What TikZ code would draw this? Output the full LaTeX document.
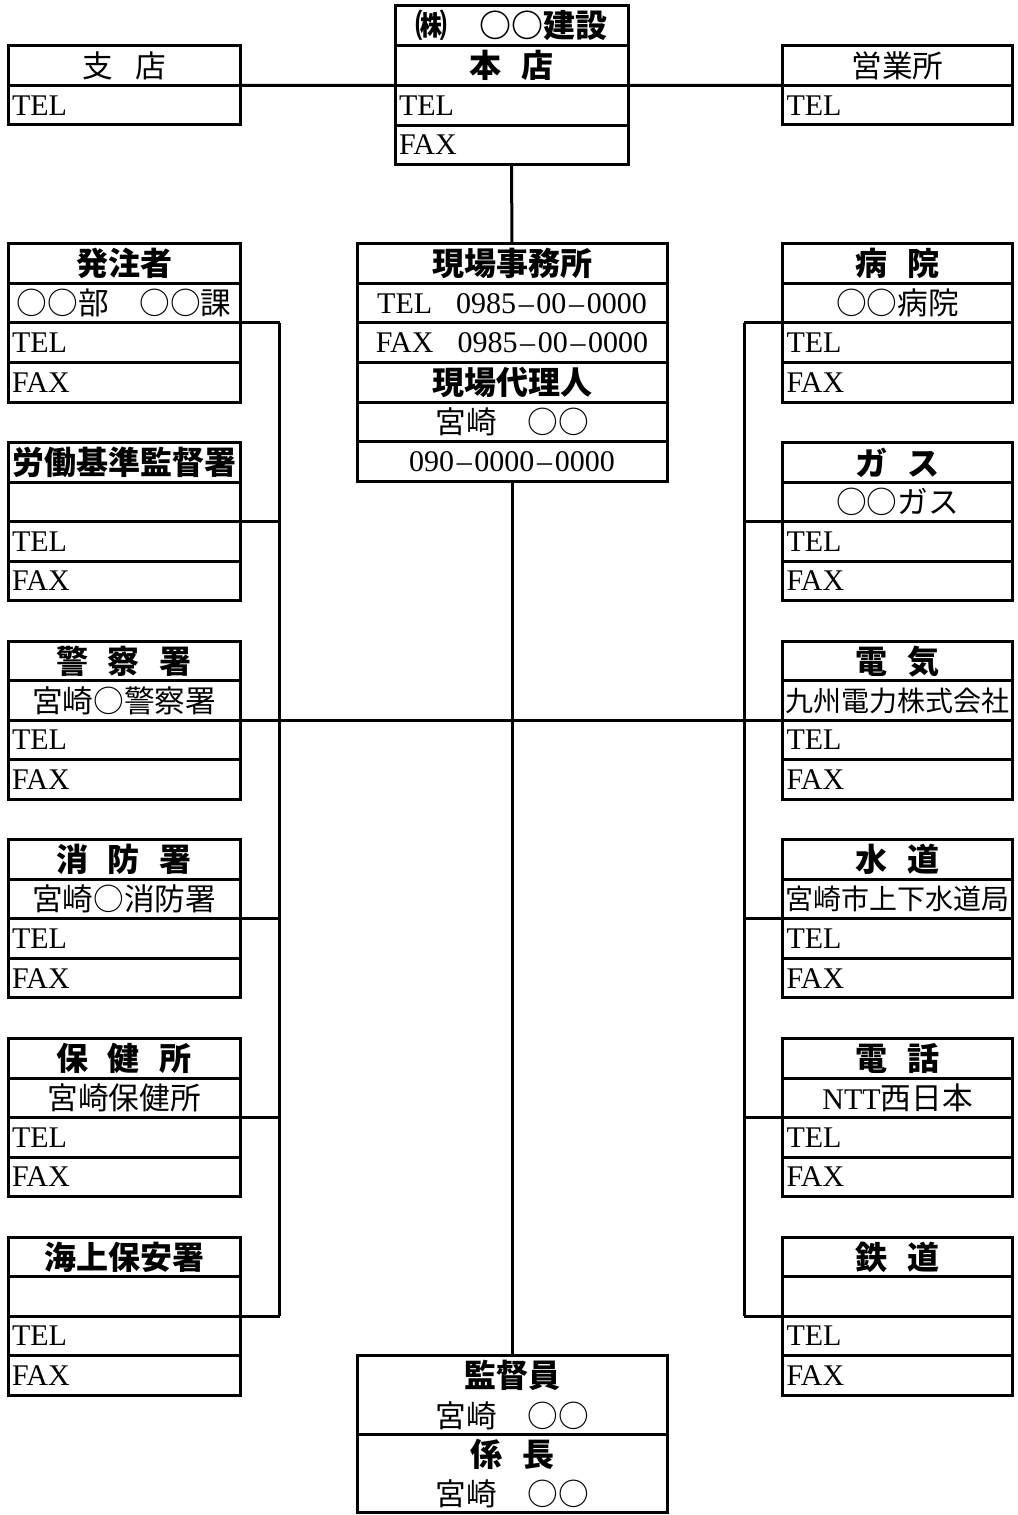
\documentclass[tikz,border=0pt]{standalone}
\usepackage{fontspec}
\setmainfont{Liberation Serif}
\newfontfamily\jp{Noto Sans CJK JP}
\newcommand\J[1]{{\jp\fontsize{23pt}{29.6pt}\selectfont #1}}
\newcommand\Js[1]{{\jp\fontsize{21pt}{29.6pt}\selectfont #1}}
\newcommand\JB[1]{{\jp\bfseries\fontsize{24pt}{29.6pt}\selectfont #1}}
\newcommand\hy{\kern2pt–\kern2pt}
\newcommand\bsp{\hspace{15pt}}
\newcommand\rsp{\hspace{17pt}}
\tikzset{
  ln/.style={line width=2.25pt},
  cell/.style={draw, line width=2.25pt, inner sep=0pt, outer sep=0pt, anchor=north west, align=center,
    font=\fontsize{22.5pt}{29.6pt}\selectfont, minimum height=29.625pt},
  lw/.style={text width=174pt},
  rw/.style={text width=172.5pt},
  cw/.style={text width=232.5pt},
  hw/.style={text width=174.75pt},
  lft/.style={align=left},
}
\newcommand\fourbox[6]{%
  \node[cell,#4] (#1a) at (#2,#3) {\JB{#5}};
  \node[cell,#4] (#1b) at (#1a.south west) {#6};
  \node[cell,#4,lft] (#1c) at (#1b.south west) {\hspace*{3pt}TEL};
  \node[cell,#4,lft] (#1d) at (#1c.south west) {\hspace*{3pt}FAX};
}
\begin{document}
\begin{tikzpicture}[x=0.75pt,y=-0.75pt]
\useasboundingbox (0,0) rectangle (1017,1515);
% head office
\node[cell,hw,minimum height=29.85pt] (hona) at (395,5.7) {\JB{㈱　○○建設}};
\node[cell,hw,minimum height=29.85pt] (honb) at (hona.south west) {\JB{本\bsp 店}};
\node[cell,hw,lft,minimum height=29.85pt] (honc) at (honb.south west) {\hspace*{3pt}TEL};
\node[cell,hw,lft,minimum height=29.85pt] (hond) at (honc.south west) {\hspace*{3pt}FAX};
% branch and sales office
\node[cell,lw] (shia) at (8,46) {\J{支\rsp 店}};
\node[cell,lw,lft] (shib) at (shia.south west) {\hspace*{3pt}TEL};
\node[cell,rw] (eiga) at (782.5,46) {\J{営業所}};
\node[cell,rw,lft] (eigb) at (eiga.south west) {\hspace*{3pt}TEL};
% site office
\node[cell,cw] (gena) at (357,244) {\JB{現場事務所}};
\node[cell,cw] (genb) at (gena.south west) {TEL\hspace{18pt}0985\hy 00\hy 0000};
\node[cell,cw] (genc) at (genb.south west) {FAX\hspace{18pt}0985\hy 00\hy 0000};
\node[cell,cw] (gend) at (genc.south west) {\JB{現場代理人}};
\node[cell,cw] (gene) at (gend.south west) {\J{宮崎　○○}};
\node[cell,cw] (genf) at (gene.south west) {090\hy 0000\hy 0000};
% supervisor
\node[cell,cw,minimum height=58.88pt] (kana) at (357,1355.7) {\JB{監督員}\\\J{宮崎　○○}};
\node[cell,cw,minimum height=58.88pt] (kanb) at (kana.south west) {\JB{係\bsp 長}\\\J{宮崎　○○}};
% left column
\fourbox{hat}{8}{244}{lw}{発注者}{\J{○○部　○○課}}
\fourbox{rou}{8}{442.66}{lw}{労働基準監督署}{}
\fourbox{kei}{8}{641.32}{lw}{警\bsp 察\bsp 署}{\J{宮崎○警察署}}
\fourbox{sho}{8}{839.98}{lw}{消\bsp 防\bsp 署}{\J{宮崎○消防署}}
\fourbox{hok}{8}{1038.64}{lw}{保\bsp 健\bsp 所}{\J{宮崎保健所}}
\fourbox{kai}{8}{1237.3}{lw}{海上保安署}{}
% right column
\fourbox{byo}{782.5}{244}{rw}{病\bsp 院}{\J{○○病院}}
\fourbox{gas}{782.5}{442.66}{rw}{ガ\bsp ス}{\J{○○ガス}}
\fourbox{den}{782.5}{641.32}{rw}{電\bsp 気}{\Js{九州電力株式会社}}
\fourbox{sui}{782.5}{839.98}{rw}{水\bsp 道}{\Js{宮崎市上下水道局}}
\fourbox{tel}{782.5}{1038.64}{rw}{電\bsp 話}{NTT\J{西日本}}
\fourbox{tet}{782.5}{1237.3}{rw}{鉄\bsp 道}{}
% connectors
\coordinate (LV) at (279.5,0);
\coordinate (RV) at (744,0);
\draw[ln] (shib.north east) -- (honc.north west);
\draw[ln] (honc.north east) -- (eigb.north west);
\draw[ln] (hond.south) -- (gena.north);
\draw[ln] (genf.south) -- (kana.north);
\draw[ln] (keic.north east) -- (denc.north west);
\foreach \p in {hat,rou,kei,sho,hok,kai}{
  \draw[ln] (\p c.north east) -- (LV |- \p c.north east);
}
\foreach \p in {byo,gas,den,sui,tel,tet}{
  \draw[ln] (\p c.north west) -- (RV |- \p c.north west);
}
\draw[ln] (LV |- hatc.north east) -- (LV |- kaic.north east);
\draw[ln] (RV |- byoc.north west) -- (RV |- tetc.north west);
\end{tikzpicture}
\end{document}
